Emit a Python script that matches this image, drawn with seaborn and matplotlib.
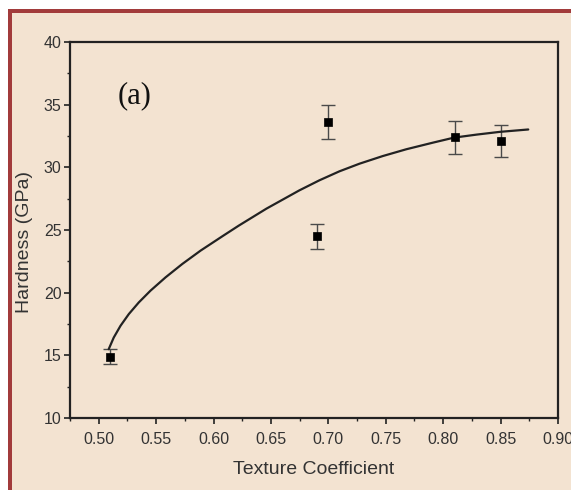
import numpy as np
import pandas as pd
import matplotlib
matplotlib.use("Agg")
import matplotlib.pyplot as plt
from matplotlib.patches import Rectangle
from matplotlib.ticker import MultipleLocator, FormatStrFormatter
import seaborn as sns

# measured points (texture coefficient vs hardness)
texture_coeff = [0.51, 0.69, 0.70, 0.81, 0.85]
hardness = [14.9, 24.5, 33.6, 32.4, 32.1]
hardness_err = [0.6, 1.0, 1.35, 1.3, 1.3]

# fitted curve
fit_x = [0.5087, 0.5131, 0.519, 0.5262, 0.5349, 0.5451, 0.5582, 0.5728,
         0.5888, 0.6077, 0.622, 0.646, 0.6747, 0.6921, 0.7096, 0.7271,
         0.7474, 0.7678, 0.7911, 0.8094, 0.829, 0.8493, 0.8741]
fit_y = [15.49, 16.42, 17.36, 18.29, 19.22, 20.16, 21.22, 22.29,
         23.36, 24.5, 25.35, 26.7, 28.16, 28.96, 29.68, 30.29,
         30.9, 31.44, 31.97, 32.37, 32.61, 32.83, 33.02]

BG = "#f3e3d1"
BORDER = "#a23b3b"
INK = "#222222"

sns.set_style("ticks")
plt.rcParams["font.family"] = ["Liberation Sans", "DejaVu Sans"]

points = pd.DataFrame({"tc": texture_coeff, "h": hardness, "err": hardness_err})
curve = pd.DataFrame({"tc": fit_x, "h": fit_y})

fig = plt.figure(figsize=(5.71, 4.90), dpi=100, facecolor=BG)
ax = fig.add_axes([70 / 571, 1 - 418 / 490, 488 / 571, 376 / 490])
ax.set_facecolor(BG)

# white margin + dark red frame on top and left
fig.patches.append(Rectangle((0, 1 - 9.5 / 490), 1, 9.5 / 490, transform=fig.transFigure,
                             facecolor="white", edgecolor="none", zorder=-2))
fig.patches.append(Rectangle((0, 0), 8 / 571, 1, transform=fig.transFigure,
                             facecolor="white", edgecolor="none", zorder=-2))
fig.patches.append(Rectangle((8 / 571, 1 - 12.8 / 490), 1, 3.3 / 490, transform=fig.transFigure,
                             facecolor=BORDER, edgecolor="none", zorder=-1))
fig.patches.append(Rectangle((8 / 571, 0), 4 / 571, 1 - 9.5 / 490, transform=fig.transFigure,
                             facecolor=BORDER, edgecolor="none", zorder=-1))

sns.lineplot(data=curve, x="tc", y="h", ax=ax, color=INK, linewidth=1.6,
             sort=False, estimator=None, zorder=3)
ax.errorbar(points["tc"], points["h"], yerr=points["err"], fmt="none",
            ecolor="#4a4a4a", elinewidth=1.0, capsize=5, capthick=1.0, zorder=2)
sns.scatterplot(data=points, x="tc", y="h", ax=ax, marker="s", s=40,
                color="black", edgecolor="black", linewidth=0.5, zorder=4)

ax.set_xlim(0.475, 0.90)
ax.set_ylim(10, 40)
ax.xaxis.set_major_locator(MultipleLocator(0.05))
ax.xaxis.set_minor_locator(MultipleLocator(0.025))
ax.xaxis.set_major_formatter(FormatStrFormatter("%.2f"))
ax.yaxis.set_major_locator(MultipleLocator(5))
ax.yaxis.set_minor_locator(MultipleLocator(2.5))

for side in ["top", "right", "bottom", "left"]:
    ax.spines[side].set_visible(True)
    ax.spines[side].set_color(INK)
    ax.spines[side].set_linewidth(1.6)

ax.tick_params(which="major", direction="out", length=4, width=1.2, color=INK,
               labelsize=11.5, labelcolor="#333333", top=False, right=False)
ax.tick_params(which="minor", direction="out", length=2.5, width=1.0, color=INK,
               top=False, right=False)
ax.tick_params(axis="x", which="major", pad=6)
ax.tick_params(axis="y", which="major", pad=2)

ax.set_xlabel("Texture Coefficient", fontsize=14, color="#333333", labelpad=10)
ax.set_ylabel("Hardness (GPa)", fontsize=14, color="#333333")
ax.yaxis.set_label_coords(-0.075, 0.468)

fig.text(135 / 571, 1 - 96 / 490, "(a)", family=["Liberation Serif", "DejaVu Serif"],
         fontsize=22, color="#111111", ha="center", va="center")

fig.savefig("out.png", dpi=100, facecolor=BG)
